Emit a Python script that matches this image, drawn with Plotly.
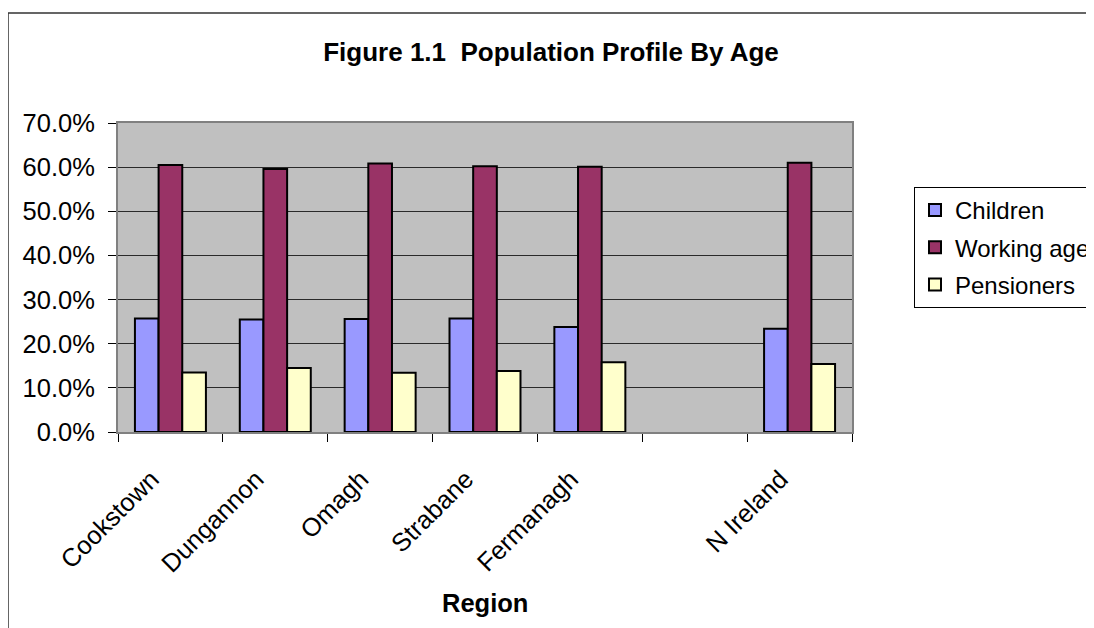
import plotly.graph_objects as go

regions = ["Cookstown", "Dungannon", "Omagh", "Strabane", "Fermanagh", " ", "N Ireland"]
children = [25.7, 25.5, 25.6, 25.7, 23.8, None, 23.4]
working_age = [60.5, 59.6, 60.8, 60.2, 60.1, None, 61.0]
pensioners = [13.5, 14.5, 13.4, 13.8, 15.8, None, 15.4]

series = [
    ("Children", children, "#9999FF"),
    ("Working age", working_age, "#993366"),
    ("Pensioners", pensioners, "#FFFFCC"),
]

FONT = "Liberation Sans, Arial, sans-serif"

fig = go.Figure()
for name, vals, col in series:
    fig.add_trace(go.Bar(
        x=regions, y=vals, name=name, legendgroup=name,
        marker=dict(color=col, line=dict(color="black", width=2)),
    ))

OFF = 8  # page body margin
W, H = 1094, 628
L, R, T, B = 118 - OFF, 852 - OFF, 123 - OFF, 432 - OFF
pw, ph = R - L, B - T

def px(x):
    return (x - OFF - L) / pw

def py(y):
    return (B - (y - OFF)) / ph

fig.update_layout(
    width=W, height=H,
    margin=dict(l=L, r=W - R, t=T, b=H - B, autoexpand=False),
    paper_bgcolor="white",
    plot_bgcolor="#C0C0C0",
    barmode="group",
    bargap=0.323,
    bargroupgap=0,
    font=dict(family=FONT, size=25, color="black"),
    title=dict(
        text="<b>Figure 1.1  Population Profile By Age</b>",
        xref="container", yref="container",
        x=(551 - OFF) / W, y=1 - (52 - OFF) / H, xanchor="center", yanchor="middle",
        font=dict(family=FONT, size=26, color="black"),
    ),
    legend=dict(
        x=px(914), y=py(187), xanchor="left", yanchor="top",
        bgcolor="white", bordercolor="black", borderwidth=1,
        font=dict(family=FONT, size=24, color="black"),
        traceorder="grouped", tracegroupgap=3,
    ),
    showlegend=True,
)

fig.update_xaxes(
    type="category",
    categoryorder="array", categoryarray=regions,
    tickson="boundaries", ticks="outside", ticklen=8, tickcolor="black", tickwidth=1,
    tickangle=-45,
    ticklabelstandoff=20, ticklabelshift=-19,
    showline=True, linecolor="#808080", linewidth=2, mirror=True,
    showgrid=False,
    tickfont=dict(family=FONT, size=25.5, color="black"),
)
fig.update_yaxes(
    range=[0, 70], dtick=10, tick0=0,
    tickformat=".1f", ticksuffix="%",
    ticks="outside", ticklen=8, tickcolor="black", tickwidth=1,
    ticklabelstandoff=8,
    showline=True, linecolor="#808080", linewidth=2, mirror=True,
    showgrid=True, gridcolor="#2a2a2a", gridwidth=1,
    zeroline=False,
    tickfont=dict(family=FONT, size=25.5, color="black"),
)

fig.add_annotation(
    text="<b>Region</b>", xref="paper", yref="paper",
    x=0.5, y=py(603), xanchor="center", yanchor="middle",
    showarrow=False, font=dict(family=FONT, size=25.5, color="black"),
)

# outer chart border
fig.add_shape(
    type="rect", xref="paper", yref="paper",
    x0=px(8), x1=px(1300), y0=py(800), y1=py(13),
    line=dict(color="#333333", width=1.5), layer="below",
)

fig.write_html("out.html")
